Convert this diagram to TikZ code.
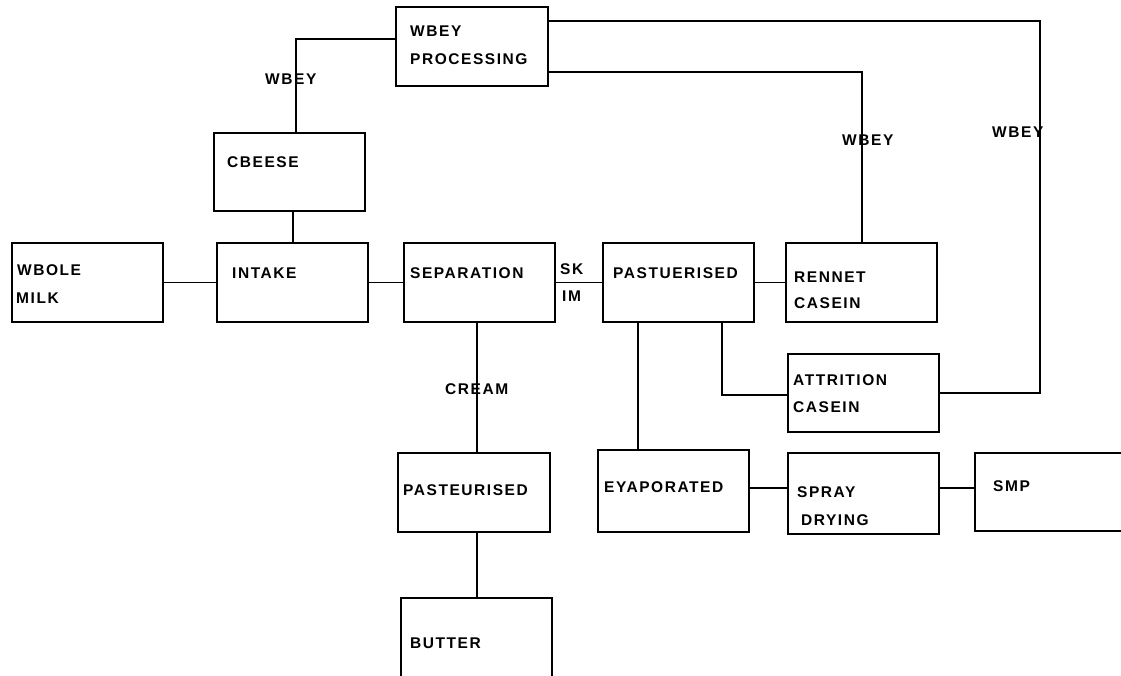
\documentclass[tikz,border=0pt]{standalone}
\usepackage{fontspec}
\setmainfont{Liberation Sans}[LetterSpace=10]
\begin{document}
\begin{tikzpicture}[x=1pt,y=-1pt,
  bx/.style={draw,line width=1.6pt,inner sep=0pt,outer sep=0pt},
  ln/.style={line width=1.6pt},
  txt/.style={anchor=base west,inner sep=0pt,font=\fontsize{15.5}{18}\selectfont\bfseries}]
\useasboundingbox (0,0) rectangle (1121,676);
\clip (0,0) rectangle (1121,676);
\newcommand\mkbox[5]{\node[bx,minimum width={#4-#2},minimum height={#5-#3}] (#1) at ({(#2+#4)/2},{(#3+#5)/2}) {};}
% boxes
\mkbox{whey}{396}{7}{548}{86}
\mkbox{cheese}{214}{133}{365}{211}
\mkbox{wmilk}{12}{243}{163}{322}
\mkbox{intake}{217}{243}{368}{322}
\mkbox{sep}{404}{243}{555}{322}
\mkbox{past}{603}{243}{754}{322}
\mkbox{rennet}{786}{243}{937}{322}
\mkbox{attr}{788}{354}{939}{432}
\mkbox{evap}{598}{450}{749}{532}
\mkbox{spray}{788}{453}{939}{534}
\mkbox{smp}{975}{453}{1140}{531}
\mkbox{cpast}{398}{453}{550}{532}
\mkbox{butter}{401}{598}{552}{690}
% box texts
\node[txt] (t1) at (410,37) {WBEY};
\node[txt] (t2) at (410,65) {PROCESSING};
\node[txt] (t3) at (227,168) {CBEESE};
\node[txt] (t4) at (17,276) {WBOLE};
\node[txt] (t5) at (16,303) {MILK};
\node[txt] (t6) at (232,279) {INTAKE};
\node[txt] (t7) at (410,279) {SEPARATION};
\node[txt] (t8) at (613,279) {PASTUERISED};
\node[txt] (t9) at (794,282) {RENNET};
\node[txt] (t10) at (794,308) {CASEIN};
\node[txt] (t11) at (793,385) {ATTRITION};
\node[txt] (t12) at (793,412) {CASEIN};
\node[txt] (t13) at (604,492) {EYAPORATED};
\node[txt] (t14) at (797,497) {SPRAY};
\node[txt] (t15) at (801,525) {DRYING};
\node[txt] (t16) at (993,491) {SMP};
\node[txt] (t17) at (403,495) {PASTEURISED};
\node[txt] (t18) at (410,648) {BUTTER};
% connector labels
\node[txt] (l1) at (265,85) {WBEY};
\node[txt] (l2) at (560,274) {SK};
\node[txt] (l3) at (562,301) {IM};
\node[txt] (l4) at (445,394) {CREAM};
\node[txt] (l5) at (842,146) {WBEY};
\node[txt] (l6) at (992,138) {WBEY};
% bend coordinates
\coordinate (c1) at (296,39);
\coordinate (c2) at (1040,21);
\coordinate (c3) at (1040,393);
\coordinate (c4) at (862,72);
\coordinate (c5) at (293,0);
\coordinate (c6) at (722,395);
\coordinate (c7) at (638,0);
\coordinate (c8) at (477,0);
\coordinate (c9) at (0,488);
% connectors
\draw[ln] (cheese.north -| c1) -- (c1) -- (whey.west |- c1);
\draw[ln] (whey.east |- c2) -- (c2) -- (c3) -- (attr.east |- c3);
\draw[ln] (whey.east |- c4) -- (c4) -- (rennet.north -| c4);
\draw[ln] (cheese.south -| c5) -- (intake.north -| c5);
\draw[ln] (wmilk) -- (intake);
\draw[ln] (intake) -- (sep);
\draw[ln] (sep) -- (past);
\draw[ln] (past) -- (rennet);
\draw[ln] (past.south -| c6) -- (c6) -- (attr.west |- c6);
\draw[ln] (past.south -| c7) -- (evap.north -| c7);
\draw[ln] (sep.south -| c8) -- (cpast.north -| c8);
\draw[ln] (cpast.south -| c8) -- (butter.north -| c8);
\draw[ln] (evap.east |- c9) -- (spray.west |- c9);
\draw[ln] (spray.east |- c9) -- (smp.west |- c9);
\end{tikzpicture}
\end{document}
